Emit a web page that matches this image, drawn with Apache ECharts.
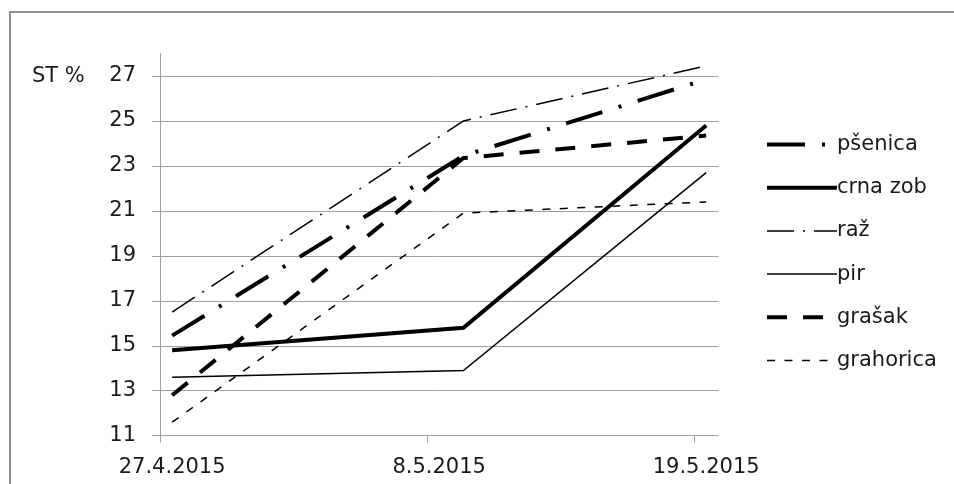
<!DOCTYPE html>
<html>
<head>
<meta charset="utf-8">
<script src="https://cdn.jsdelivr.net/npm/echarts@6/dist/echarts.min.js"></script>
<style>
html,body{margin:0;padding:0;background:#fff;}
#c{width:954px;height:484px;}
</style>
</head>
<body>
<div id="c"></div>
<script>
// ---- data ----
const pointDates = ['27.4.2015', '9.5.2015', '19.5.2015'];
const tickLabels = ['27.4.2015', '8.5.2015', '19.5.2015'];
const yTickValues = [11, 13, 15, 17, 19, 21, 23, 25, 27];
const seriesNames = ['pšenica', 'crna zob', 'raž', 'pir', 'grašak', 'grahorica'];
const psenica = [15.45, 23.45, 26.85];
const crnaZob = [14.8, 15.8, 24.8];
const raz = [16.5, 25.0, 27.45];
const pir = [13.6, 13.9, 22.7];
const grasak = [12.8, 23.35, 24.35];
const grahorica = [11.6, 20.9, 21.4];

// ---- helpers ----
function dayOf(s) {
  const p = s.split('.').map(Number);
  return Math.round((Date.UTC(p[2], p[1] - 1, p[0]) - Date.UTC(2015, 3, 27)) / 864e5);
}
const xMin = dayOf(tickLabels[0]);
const xMax = dayOf(tickLabels[tickLabels.length - 1]) + 1;
const labelPos = tickLabels.map(t => dayOf(t) + 0.5);
const tickPos = tickLabels.map(t => dayOf(t));
function toData(vals) { return vals.map((v, i) => [dayOf(pointDates[i]) + 0.5, v]); }

const FONT = 'DejaVu Sans';
const TXT = '#1a1a1a';
const GRID = '#a0a0a0';

const styles = [
  { width: 4, type: [38, 17, 3, 17] },
  { width: 4, type: 'solid' },
  { width: 1.5, type: [27, 9, 2, 9] },
  { width: 1.5, type: 'solid' },
  { width: 4, type: [20, 16] },
  { width: 1.5, type: [8, 9.5] }
];
const values = [psenica, crnaZob, raz, pir, grasak, grahorica];

const series = seriesNames.map((n, i) => ({
  name: n,
  type: 'line',
  data: toData(values[i]),
  symbol: 'none',
  silent: true,
  animation: false,
  lineStyle: { color: '#000', width: styles[i].width, type: styles[i].type, cap: 'butt', join: 'miter' },
  itemStyle: { color: '#000' },
  z: 10 - i
}));

const chart = echarts.init(document.getElementById('c'), null, { renderer: 'canvas' });
chart.setOption({
  backgroundColor: '#fff',
  animation: false,
  grid: { left: 160, right: 235.7, top: 53.5, bottom: 48.3, containLabel: false },
  xAxis: {
    type: 'value',
    min: xMin,
    max: xMax,
    axisLine: { show: true, lineStyle: { color: GRID, width: 1 } },
    axisTick: { show: true, length: 7, inside: false, customValues: tickPos, lineStyle: { color: GRID } },
    axisLabel: {
      customValues: labelPos,
      margin: 21,
      fontFamily: FONT, fontSize: 21, color: TXT,
      formatter: v => { const k = labelPos.findIndex(p => Math.abs(p - v) < 1e-6); return k >= 0 ? tickLabels[k] : ''; }
    },
    splitLine: { show: false }
  },
  yAxis: {
    type: 'value',
    min: 11,
    max: 28,
    axisLine: { show: true, lineStyle: { color: GRID, width: 1 } },
    axisTick: { show: true, length: 8, inside: false, customValues: yTickValues, lineStyle: { color: GRID } },
    axisLabel: { customValues: yTickValues, margin: 24, fontFamily: FONT, fontSize: 21, color: TXT },
    splitLine: { show: true, lineStyle: { color: GRID, width: 1 } }
  },
  legend: {
    orient: 'vertical',
    left: 760,
    top: 129,
    itemWidth: 70,
    itemHeight: 20,
    itemGap: 22.2,
    selectedMode: false,
    itemStyle: { opacity: 0 },
    lineStyle: { width: 'inherit', type: 'inherit', cap: 'butt' },
    textStyle: { fontFamily: FONT, fontSize: 21, color: TXT, lineHeight: 21, padding: [0, 0, 0, -5] },
    data: seriesNames
  },
  graphic: [
    { type: 'rect', silent: true, z: -10, shape: { x: 10, y: 12, width: 1000, height: 600 },
      style: { fill: 'none', stroke: '#8f8f8f', lineWidth: 2 } },
    { type: 'text', silent: true, x: 32, y: 77,
      style: { text: 'ST %', font: '21px "DejaVu Sans"', fill: TXT, verticalAlign: 'middle', align: 'left' } }
  ],
  series: series
});
</script>
</body>
</html>
